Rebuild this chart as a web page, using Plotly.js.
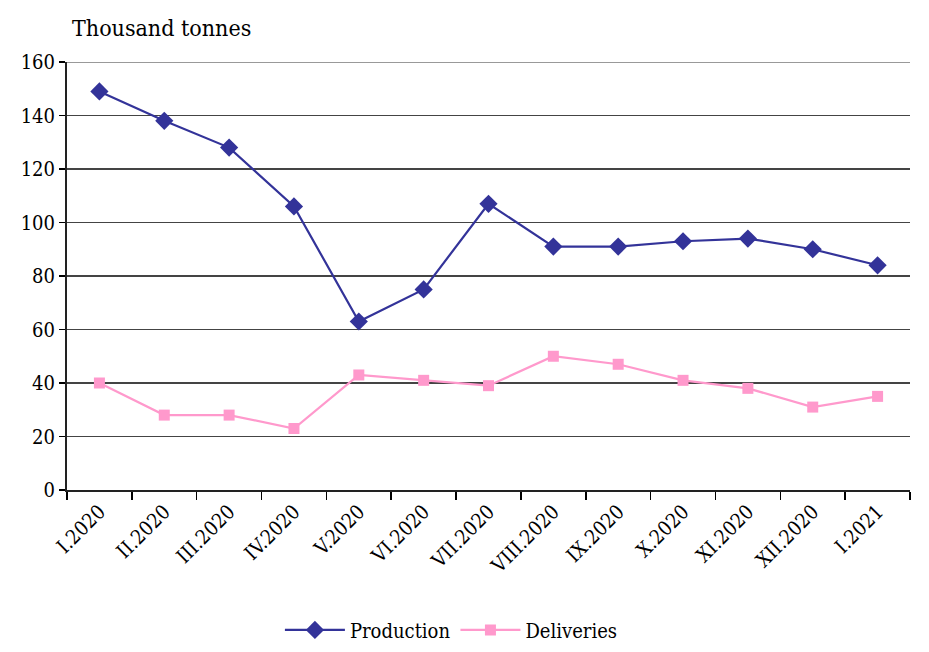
<!DOCTYPE html>
<html>
<head>
<meta charset="utf-8">
<script src="https://cdn.plot.ly/plotly-3.0.1.min.js"></script>
<style>html,body{margin:0;padding:0;background:#fff;}#chart{width:929px;height:652px;}</style>
</head>
<body>
<div id="chart"></div>
<script>
const categories = ["I.2020","II.2020","III.2020","IV.2020","V.2020","VI.2020","VII.2020","VIII.2020","IX.2020","X.2020","XI.2020","XII.2020","I.2021"];
const production = [149, 138, 128, 106, 63, 75, 107, 91, 91, 93, 94, 90, 84];
const deliveries = [40, 28, 28, 23, 43, 41, 39, 50, 47, 41, 38, 31, 35];
const yTicks = [0, 20, 40, 60, 80, 100, 120, 140, 160];

const FAM = "'DejaVu Serif Condensed', 'DejaVu Serif', serif";

const traces = [
  {x: categories, y: production, name: "Production", type: "scatter", mode: "lines+markers",
   line: {color: "#333399", width: 2.2}, marker: {symbol: "diamond", size: 14, color: "#333399"}},
  {x: categories, y: deliveries, name: "Deliveries", type: "scatter", mode: "lines+markers",
   line: {color: "#FF99CC", width: 2.2}, marker: {symbol: "square", size: 11, color: "#FF99CC"}}
];

const layout = {
  width: 929, height: 652,
  margin: {l: 67, r: 19, t: 62, b: 162, autoexpand: false},
  paper_bgcolor: "#fff", plot_bgcolor: "#fff",
  font: {family: FAM, size: 17, color: "#000"},
  showlegend: true,
  legend: {orientation: "h", x: 0.456, xanchor: "center", yref: "container", y: 0.004, yanchor: "bottom",
           font: {family: FAM, size: 20, color: "#000"}, itemwidth: 60, traceorder: "normal"},
  annotations: [{text: "Thousand tonnes", xref: "paper", yref: "paper", x: 0.004, y: 1.045,
                 xanchor: "left", yanchor: "bottom", showarrow: false,
                 font: {family: FAM, size: 23, color: "#000"}}],
  xaxis: {type: "category", range: [-0.5, categories.length - 0.5], tickson: "boundaries",
          ticks: "outside", ticklen: 8, tickwidth: 1.5, tickcolor: "#000",
          showline: true, linecolor: "#222", linewidth: 2, showgrid: false, automargin: false,
          tickangle: -45, tickfont: {family: FAM, size: 20, color: "#000"}, fixedrange: true},
  yaxis: {range: [0, 160], tickvals: yTicks, ticktext: yTicks.map(String),
          ticks: "outside", ticklen: 6, tickwidth: 1.5, tickcolor: "#000",
          showline: true, linecolor: "#222", linewidth: 2, automargin: false,
          showgrid: true, gridcolor: "#444", gridwidth: 1.3, zeroline: false,
          tickfont: {family: FAM, size: 20, color: "#000"}, fixedrange: true},
  shapes: [{type: "line", xref: "paper", yref: "y", x0: 0, x1: 1, y0: 160, y1: 160,
            line: {color: "#999", width: 2}, layer: "above"}]
};

Plotly.newPlot("chart", traces, layout, {displayModeBar: false, staticPlot: true});
</script>
</body>
</html>
